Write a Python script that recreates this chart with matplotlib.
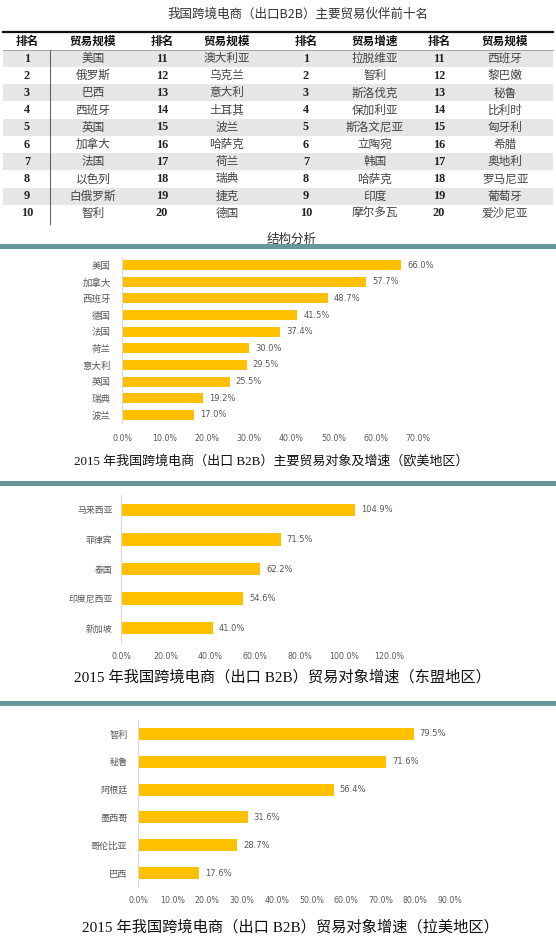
import matplotlib
matplotlib.use('Agg')
import matplotlib.pyplot as plt
from matplotlib.patches import Rectangle

plt.rcParams['font.family'] = ['Noto Sans CJK SC', 'DejaVu Sans']

W, H = 556, 940

# 表格数据
table_title = '我国跨境电商（出口B2B）主要贸易伙伴前十名'
table_headers = ['排名', '贸易规模', '排名', '贸易规模', '排名', '贸易增速', '排名', '贸易规模']
ranks_1_10 = ['1', '2', '3', '4', '5', '6', '7', '8', '9', '10']
ranks_11_20 = ['11', '12', '13', '14', '15', '16', '17', '18', '19', '20']
scale_1_10 = ['美国', '俄罗斯', '巴西', '西班牙', '英国', '加拿大', '法国', '以色列', '白俄罗斯', '智利']
scale_11_20 = ['澳大利亚', '乌克兰', '意大利', '土耳其', '波兰', '哈萨克', '荷兰', '瑞典', '捷克', '德国']
growth_1_10 = ['拉脱维亚', '智利', '斯洛伐克', '保加利亚', '斯洛文尼亚', '立陶宛', '韩国', '哈萨克', '印度', '摩尔多瓦']
growth_11_20 = ['西班牙', '黎巴嫩', '秘鲁', '比利时', '匈牙利', '希腊', '奥地利', '罗马尼亚', '葡萄牙', '爱沙尼亚']

# 欧美地区
eu_countries = ['美国', '加拿大', '西班牙', '德国', '法国', '荷兰', '意大利', '英国', '瑞典', '波兰']
eu_growth = [66.0, 57.7, 48.7, 41.5, 37.4, 30.0, 29.5, 25.5, 19.2, 17.0]
eu_ticks = [0, 10, 20, 30, 40, 50, 60, 70]

# 东盟地区
asean_countries = ['马来西亚', '菲律宾', '泰国', '印度尼西亚', '新加坡']
asean_growth = [104.9, 71.5, 62.2, 54.6, 41.0]
asean_ticks = [0, 20, 40, 60, 80, 100, 120]

# 拉美地区
latam_countries = ['智利', '秘鲁', '阿根廷', '墨西哥', '哥伦比亚', '巴西']
latam_growth = [79.5, 71.6, 56.4, 31.6, 28.7, 17.6]
latam_ticks = [0, 10, 20, 30, 40, 50, 60, 70, 80, 90]

BAR_COLOR = '#FFC000'
TEAL = '#6a979c'
GREY_TEXT = '#595959'
SERIF = ['Liberation Serif', 'Noto Sans CJK SC']


def px_axes(fig, left, top, right, bottom):
    """按像素坐标(左上原点)建坐标轴"""
    return fig.add_axes([left / W, 1 - bottom / H, (right - left) / W, (bottom - top) / H])


def draw_table(bg):
    bg.text(298, 14, table_title, ha='center', va='center', fontsize=9, color='#333333')
    col_x = [27, 93, 162, 227, 306, 375, 439, 505]
    header_y = 41.5
    row_y0, row_dy = 58.5, 17.2
    # 隔行底色
    for i in range(len(ranks_1_10)):
        if i % 2 == 0:
            yc = row_y0 + i * row_dy
            bg.add_patch(Rectangle((3, yc - row_dy / 2), 550, row_dy,
                                   facecolor='#e6e6e6', edgecolor='none', zorder=0))
    bg.plot([3, 553], [31.5, 31.5], color='#111111', lw=1.6)
    bg.plot([3, 553], [50, 50], color='#999999', lw=0.6)
    bg.plot([50, 50], [50, 224], color='#666666', lw=0.8)

    for x, h in zip(col_x, table_headers):
        bg.text(x, header_y, h, ha='center', va='center', fontsize=8.4,
                fontweight='bold', color='#111111')

    columns = [ranks_1_10, scale_1_10, ranks_11_20, scale_11_20,
               ranks_1_10, growth_1_10, ranks_11_20, growth_11_20]
    for ci, (x, col) in enumerate(zip(col_x, columns)):
        for ri, val in enumerate(col):
            yc = row_y0 + ri * row_dy
            if ci % 2 == 0:
                bg.text(x, yc, val, ha='center', va='center', fontsize=8.8,
                        fontweight='bold', family=SERIF, color='#222222')
            else:
                bg.text(x, yc, val, ha='center', va='center', fontsize=8.4,
                        color='#444444')


def draw_bar_chart(fig, rect, labels, values, ticks, bar_h, ylab_pad, tick_pad,
                   label_size):
    ax = px_axes(fig, *rect)
    pos = list(range(len(labels)))
    ax.barh(pos, values, height=bar_h, color=BAR_COLOR)
    ax.set_ylim(len(labels) - 0.5, -0.5)
    ax.set_xlim(ticks[0], ticks[-1])
    ax.set_yticks(pos)
    ax.set_yticklabels(labels, fontsize=label_size, color=GREY_TEXT)
    ax.set_xticks(ticks)
    ax.set_xticklabels([f'{t:.1f}%' for t in ticks], fontsize=5.7, color=GREY_TEXT,
                       family=['DejaVu Sans'])
    for s in ['top', 'right', 'bottom']:
        ax.spines[s].set_visible(False)
    ax.spines['left'].set_color('#d9d9d9')
    ax.spines['left'].set_linewidth(0.8)
    ax.tick_params(axis='both', length=0)
    ax.tick_params(axis='y', pad=ylab_pad)
    ax.tick_params(axis='x', pad=tick_pad)
    ax.patch.set_alpha(0)
    for p, v in zip(pos, values):
        ax.annotate(f'{v:.1f}%', (v, p), xytext=(4.3, 0), textcoords='offset points',
                    va='center', ha='left', fontsize=6, color=GREY_TEXT,
                    family=['DejaVu Sans'], annotation_clip=False)
    return ax


fig = plt.figure(figsize=(W / 100, H / 100), dpi=100)
fig.patch.set_facecolor('white')

bg = fig.add_axes([0, 0, 1, 1])
bg.set_xlim(0, W)
bg.set_ylim(H, 0)
bg.axis('off')

draw_table(bg)
bg.text(292, 239, '结构分析', ha='center', va='center', fontsize=9, color='#333333')

# 分隔条
for y0 in [244, 481, 701]:
    bg.add_patch(Rectangle((0, y0), W, 4.5, facecolor=TEAL, edgecolor='none', zorder=5))

draw_bar_chart(fig, (122, 256.7, 418, 423.3), eu_countries, eu_growth, eu_ticks,
               bar_h=0.6, ylab_pad=8, tick_pad=7.5, label_size=6.8)
bg.text(271, 461, '2015 年我国跨境电商（出口 B2B）主要贸易对象及增速（欧美地区）',
        ha='center', va='center', fontsize=9.4, family=SERIF, color='#111111')

draw_bar_chart(fig, (121, 495.2, 389, 642.8), asean_countries, asean_growth, asean_ticks,
               bar_h=0.43, ylab_pad=6, tick_pad=6.5, label_size=6.4)
bg.text(282, 677, '2015 年我国跨境电商（出口 B2B）贸易对象增速（东盟地区）',
        ha='center', va='center', fontsize=11, family=SERIF, color='#111111')

draw_bar_chart(fig, (138, 720.1, 450, 886.9), latam_countries, latam_growth, latam_ticks,
               bar_h=0.43, ylab_pad=7.6, tick_pad=6.5, label_size=6.6)
bg.text(290, 927, '2015 年我国跨境电商（出口 B2B）贸易对象增速（拉美地区）',
        ha='center', va='center', fontsize=11, family=SERIF, color='#111111')

fig.savefig('out.png', dpi=100)
plt.close(fig)
